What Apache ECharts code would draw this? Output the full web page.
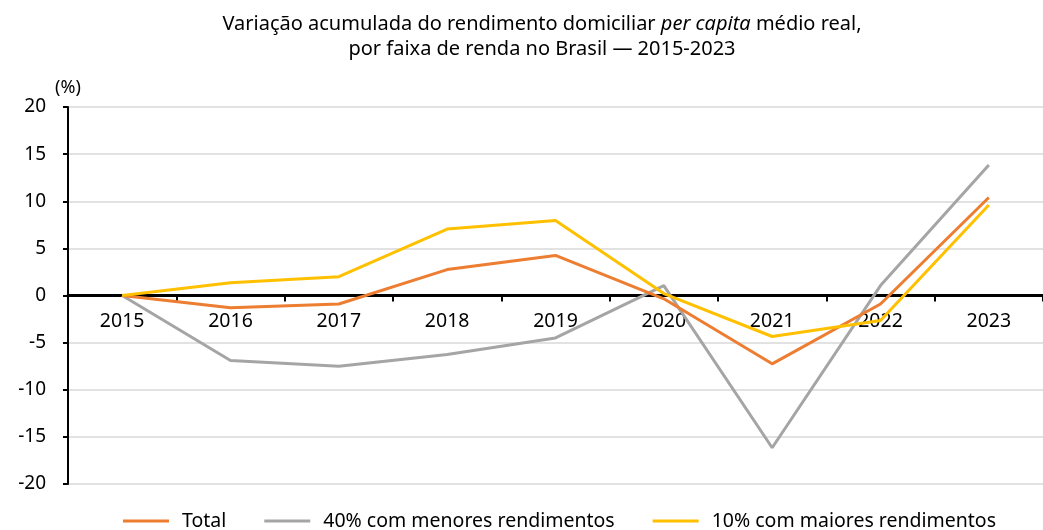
<!DOCTYPE html>
<html>
<head>
<meta charset="utf-8">
<script src="https://cdn.jsdelivr.net/npm/echarts@6/dist/echarts.min.js"></script>
<style>html,body{margin:0;padding:0;background:#fff;}#c{width:1043px;height:530px;}</style>
</head>
<body>
<div id="c"></div>
<script>
const categories = ['2015','2016','2017','2018','2019','2020','2021','2022','2023'];
const total = [0, -1.3, -0.9, 2.75, 4.25, -0.35, -7.25, -0.9, 10.4];
const bottom40 = [0, -6.9, -7.5, -6.25, -4.5, 1.05, -16.15, 1.05, 13.85];
const top10 = [0, 1.35, 2.0, 7.05, 7.95, 0.2, -4.35, -2.65, 9.6];
const seriesNames = ['Total', '40% com menores rendimentos', '10% com maiores rendimentos'];
const yTicks = {min: -20, max: 20, interval: 5};

const FONT = 'Noto Sans';
const GRID_TOP = 107, GRID_BOTTOM = 46, H = 530;
// distance from bottom of plot to the zero line (value axis spans min..max)
const plotH = H - GRID_TOP - GRID_BOTTOM;
const zeroOffset = plotH * (0 - yTicks.min) / (yTicks.max - yTicks.min);

const chart = echarts.init(document.getElementById('c'), null, {renderer: 'canvas'});
chart.setOption({
  animation: false,
  backgroundColor: '#fff',
  textStyle: {fontFamily: FONT, color: '#000'},
  title: {
    text: 'Variação acumulada do rendimento domiciliar {i|per capita} médio real,\npor faixa de renda no Brasil — 2015-2023',
    left: 537, top: 7, textAlign: 'center',
    textStyle: {
      fontFamily: FONT, fontSize: 20, fontWeight: 'normal', color: '#000', lineHeight: 25,
      rich: {i: {fontFamily: FONT, fontSize: 20, fontStyle: 'italic', color: '#000', lineHeight: 25}}
    }
  },
  grid: {left: 68, right: -9, top: GRID_TOP, bottom: GRID_BOTTOM, containLabel: false},
  legend: {
    bottom: -6, left: 118,
    icon: 'rect', itemWidth: 46, itemHeight: 3, itemGap: 38,
    textStyle: {fontFamily: FONT, fontSize: 19.5, color: '#000', padding: [0, 0, 0, 8]},
    data: seriesNames
  },
  xAxis: {
    type: 'category', data: categories, boundaryGap: true,
    offset: -zeroOffset,
    axisLine: {onZero: false, lineStyle: {color: '#000', width: 3}},
    axisTick: {show: true, length: 6, lineStyle: {color: '#000', width: 2}},
    axisLabel: {fontFamily: FONT, fontSize: 19.5, color: '#000', margin: 16},
    splitLine: {show: false}
  },
  yAxis: {
    type: 'value', min: yTicks.min, max: yTicks.max, interval: yTicks.interval,
    name: '(%)', nameLocation: 'end', nameGap: 10,
    nameTextStyle: {fontFamily: FONT, fontSize: 18, color: '#000', align: 'center'},
    axisLine: {show: true, lineStyle: {color: '#000', width: 2}},
    axisTick: {show: true, length: 5, lineStyle: {color: '#000', width: 2}},
    axisLabel: {fontFamily: FONT, fontSize: 19, color: '#000', margin: 22},
    splitLine: {show: true, lineStyle: {color: '#D9D9D9', width: 1.5}}
  },
  series: [
    {name: seriesNames[0], type: 'line', data: total, symbol: 'none', z: 4,
     lineStyle: {color: '#ED7D31', width: 3}, itemStyle: {color: '#ED7D31'}},
    {name: seriesNames[1], type: 'line', data: bottom40, symbol: 'none', z: 3,
     lineStyle: {color: '#A5A5A5', width: 3}, itemStyle: {color: '#A5A5A5'}},
    {name: seriesNames[2], type: 'line', data: top10, symbol: 'none', z: 5,
     lineStyle: {color: '#FFC000', width: 3}, itemStyle: {color: '#FFC000'}}
  ]
});
</script>
</body>
</html>
